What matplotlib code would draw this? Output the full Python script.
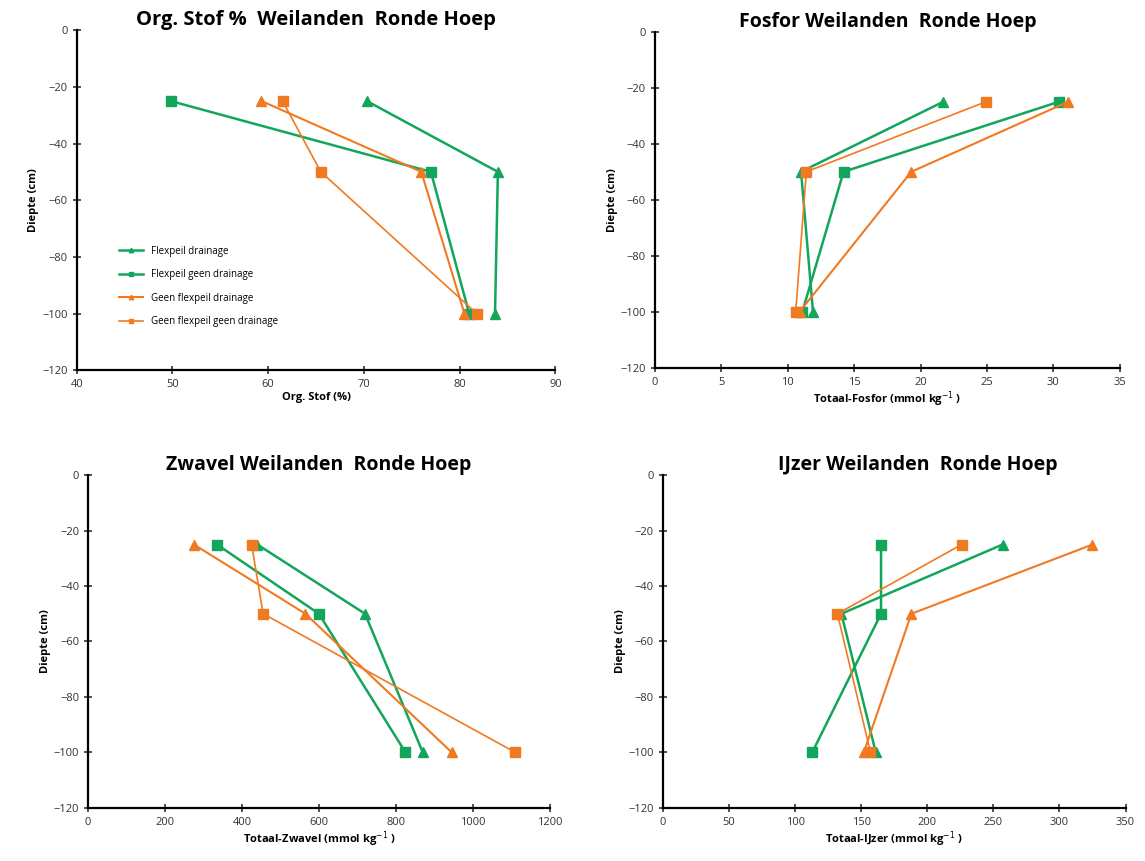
from matplotlib import pyplot as plt

# depths (cm)
depth = [-25, -50, -100]

labels = ['Flexpeil drainage', 'Flexpeil geen drainage',
          'Geen flexpeil drainage', 'Geen flexpeil geen drainage']

# Org. Stof (%)
org_fd = [70.3, 84.0, 83.7]
org_fg = [49.8, 77.0, 81.0]
org_gd = [59.3, 76.0, 80.5]
org_gg = [61.5, 65.5, 81.8]

# Totaal-Fosfor (mmol/kg)
fos_fd = [21.7, 11.0, 11.9]
fos_fg = [30.4, 14.2, 11.1]
fos_gd = [31.1, 19.3, 10.9]
fos_gg = [24.9, 11.4, 10.6]

# Totaal-Zwavel (mmol/kg)
zw_fd = [440, 720, 870]
zw_fg = [335, 600, 825]
zw_gd = [275, 565, 945]
zw_gg = [425, 455, 1110]

# Totaal-IJzer (mmol/kg)
fe_fd = [257, 135, 161]
fe_fg = [165, 165, 113]
fe_gd = [325, 188, 152]
fe_gg = [226, 132, 157]

green = '#12A65C'
orange = '#F07A22'
styles = [(green, '^', 1.8), (green, 's', 1.8), (orange, '^', 1.5), (orange, 's', 1.2)]

plt.rcParams['font.family'] = ['Open Sans', 'DejaVu Sans']
fig = plt.figure(figsize=(11.45, 8.61), dpi=100)

panels = [
    ([0.067, 0.570, 0.418, 0.395], [org_fd, org_fg, org_gd, org_gg], (40, 90), 10,
     'Org. Stof %  Weilanden  Ronde Hoep', 'Org. Stof (%)', 0.5),
    ([0.572, 0.573, 0.406, 0.390], [fos_fd, fos_fg, fos_gd, fos_gg], (0, 35), 5,
     'Fosfor Weilanden  Ronde Hoep', 'Totaal-Fosfor (mmol kg$^{-1}$ )', 0.5),
    ([0.077, 0.062, 0.403, 0.386], [zw_fd, zw_fg, zw_gd, zw_gg], (0, 1200), 200,
     'Zwavel Weilanden  Ronde Hoep', 'Totaal-Zwavel (mmol kg$^{-1}$ )', 0.5),
    ([0.579, 0.062, 0.404, 0.386], [fe_fd, fe_fg, fe_gd, fe_gg], (0, 350), 50,
     'IJzer Weilanden  Ronde Hoep', 'Totaal-IJzer (mmol kg$^{-1}$ )', 0.55),
]

for i, (pos, series, xlim, step, title, xlabel, tx) in enumerate(panels):
    ax = fig.add_axes(pos)
    for vals, lab, (c, m, lw) in zip(series, labels, styles):
        ax.plot(vals, depth, color=c, marker=m, markersize=6.5, linewidth=lw, label=lab)
    ax.set_xlim(xlim)
    ax.set_ylim(-120, 0)
    ax.set_xticks(list(range(xlim[0], xlim[1] + 1, step)))
    ax.set_yticks(list(range(-120, 1, 20)))
    for s in ['top', 'right']:
        ax.spines[s].set_visible(False)
    for s in ['left', 'bottom']:
        ax.spines[s].set_linewidth(1.6)
    ax.tick_params(direction='inout', length=6, width=1.2, labelsize=8, colors='#333333')
    ax.set_title(title, fontsize=14.5 if i == 0 else 14, fontweight='bold', pad=0, x=tx)
    ax.set_xlabel(xlabel, fontsize=8, fontweight='bold', labelpad=1)
    ax.set_ylabel('Diepte (cm)', fontsize=8, fontweight='bold', labelpad=2)
    if i == 0:
        ax.legend(loc='lower left', bbox_to_anchor=(0.07, 0.1), frameon=False,
                  fontsize=7, markerscale=0.5, handlelength=2.5, labelspacing=1.3)

plt.savefig('out.png', dpi=100)
